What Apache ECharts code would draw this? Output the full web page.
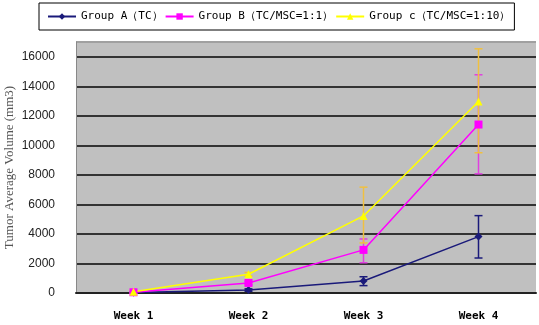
<!DOCTYPE html>
<html>
<head>
<meta charset="utf-8">
<script src="https://cdn.jsdelivr.net/npm/echarts@6/dist/echarts.min.js"></script>
<style>
  html, body { margin: 0; padding: 0; background: #fff; }
  #chart { width: 539px; height: 325px; }
</style>
</head>
<body>
<div id="chart"></div>
<script>
// categories and series values
const weeks = ['Week 1', 'Week 2', 'Week 3', 'Week 4']
const groupA = [30, 200, 810, 3820]
const groupB = [50, 680, 2920, 11410]
const groupC = [80, 1270, 5220, 12970]
// error bars: [low, high]
const errA = [[0, 60], [120, 280], [500, 1100], [2370, 5240]]
const errB = [[0, 100], [560, 800], [2050, 3660], [8070, 14780]]
const errC = [[0, 160], [1150, 1390], [3390, 7170], [9500, 16540]]
const yTicks = [0, 2000, 4000, 6000, 8000, 10000, 12000, 14000, 16000]

const seriesNames = ['Group A（TC）', 'Group B（TC/MSC=1:1）', 'Group c（TC/MSC=1:10）']
const colors = ['#1a1a7a', '#ff00ff', '#ffff00']
const errColors = ['#1a1a7a', '#e040e0', '#f0c040']

const chart = echarts.init(document.getElementById('chart'))

// draws vertical error bar with caps
function errorBar(color) {
  return function (params, api) {
    const x = api.value(0)
    const lo = api.coord([x, api.value(1)])
    const hi = api.coord([x, api.value(2)])
    const w = 4
    const style = { stroke: color, lineWidth: 1.5 }
    return {
      type: 'group',
      children: [
        { type: 'line', shape: { x1: hi[0], y1: hi[1], x2: lo[0], y2: lo[1] }, style },
        { type: 'line', shape: { x1: hi[0] - w, y1: hi[1], x2: hi[0] + w, y2: hi[1] }, style },
        { type: 'line', shape: { x1: lo[0] - w, y1: lo[1], x2: lo[0] + w, y2: lo[1] }, style }
      ]
    }
  }
}

const errSets = [errA, errB, errC]
const lineSets = [groupA, groupB, groupC]
const symbols = ['diamond', 'rect', 'triangle']

const series = []
errSets.forEach((err, i) => {
  series.push({
    type: 'custom',
    name: seriesNames[i] + '_err',
    renderItem: errorBar(errColors[i]),
    data: err.map((e, k) => [k, e[0], e[1]]),
    z: 2,
    silent: true
  })
})
lineSets.forEach((vals, i) => {
  series.push({
    type: 'line',
    name: seriesNames[i],
    data: vals,
    symbol: symbols[i],
    symbolSize: 8,
    color: colors[i],
    lineStyle: { width: 1.5, color: colors[i] },
    itemStyle: { color: colors[i] },
    z: 3
  })
})

chart.setOption({
  animation: false,
  backgroundColor: '#fff',
  legend: {
    data: seriesNames,
    left: 39,
    top: 3,
    padding: [8, 4, 8, 8],
    itemWidth: 28,
    itemHeight: 8,
    itemGap: 2,
    borderColor: '#000',
    borderWidth: 1,
    textStyle: { fontFamily: 'DejaVu Sans Mono', fontSize: 11, color: '#000' }
  },
  grid: { left: 76, right: 3, top: 42, bottom: 32, outerBoundsMode: 'none' },
  xAxis: {
    type: 'category',
    data: weeks,
    boundaryGap: true,
    axisLine: { lineStyle: { color: '#222', width: 2 } },
    axisTick: { inside: true, length: 5, lineStyle: { color: '#222' } },
    axisLabel: {
      margin: 18,
      fontFamily: 'DejaVu Sans Mono',
      fontWeight: 'bold',
      fontSize: 11,
      color: '#000'
    }
  },
  yAxis: {
    type: 'value',
    min: 0,
    max: 17000,
    interval: 2000,
    name: 'Tumor Average Volume (mm3)',
    nameLocation: 'middle',
    nameGap: 60,
    nameMoveOverlap: false,
    nameTextStyle: { fontFamily: 'Liberation Serif', fontSize: 13, color: '#555' },
    axisLine: { show: true, lineStyle: { color: '#888' } },
    axisTick: { show: false },
    axisLabel: {
      showMaxLabel: false,
      fontFamily: 'Liberation Sans',
      fontSize: 12,
      color: '#222',
      margin: 21,
      formatter: v => (yTicks.includes(v) ? String(v) : '')
    },
    splitLine: { lineStyle: { color: ['#333', '#333', '#333', '#333', '#333', '#333', '#333', '#333', '#333', '#a0a0a0'], width: 2 } },
    splitArea: { show: true, areaStyle: { color: ['#c0c0c0'] } }
  },
  series
})
</script>
</body>
</html>
